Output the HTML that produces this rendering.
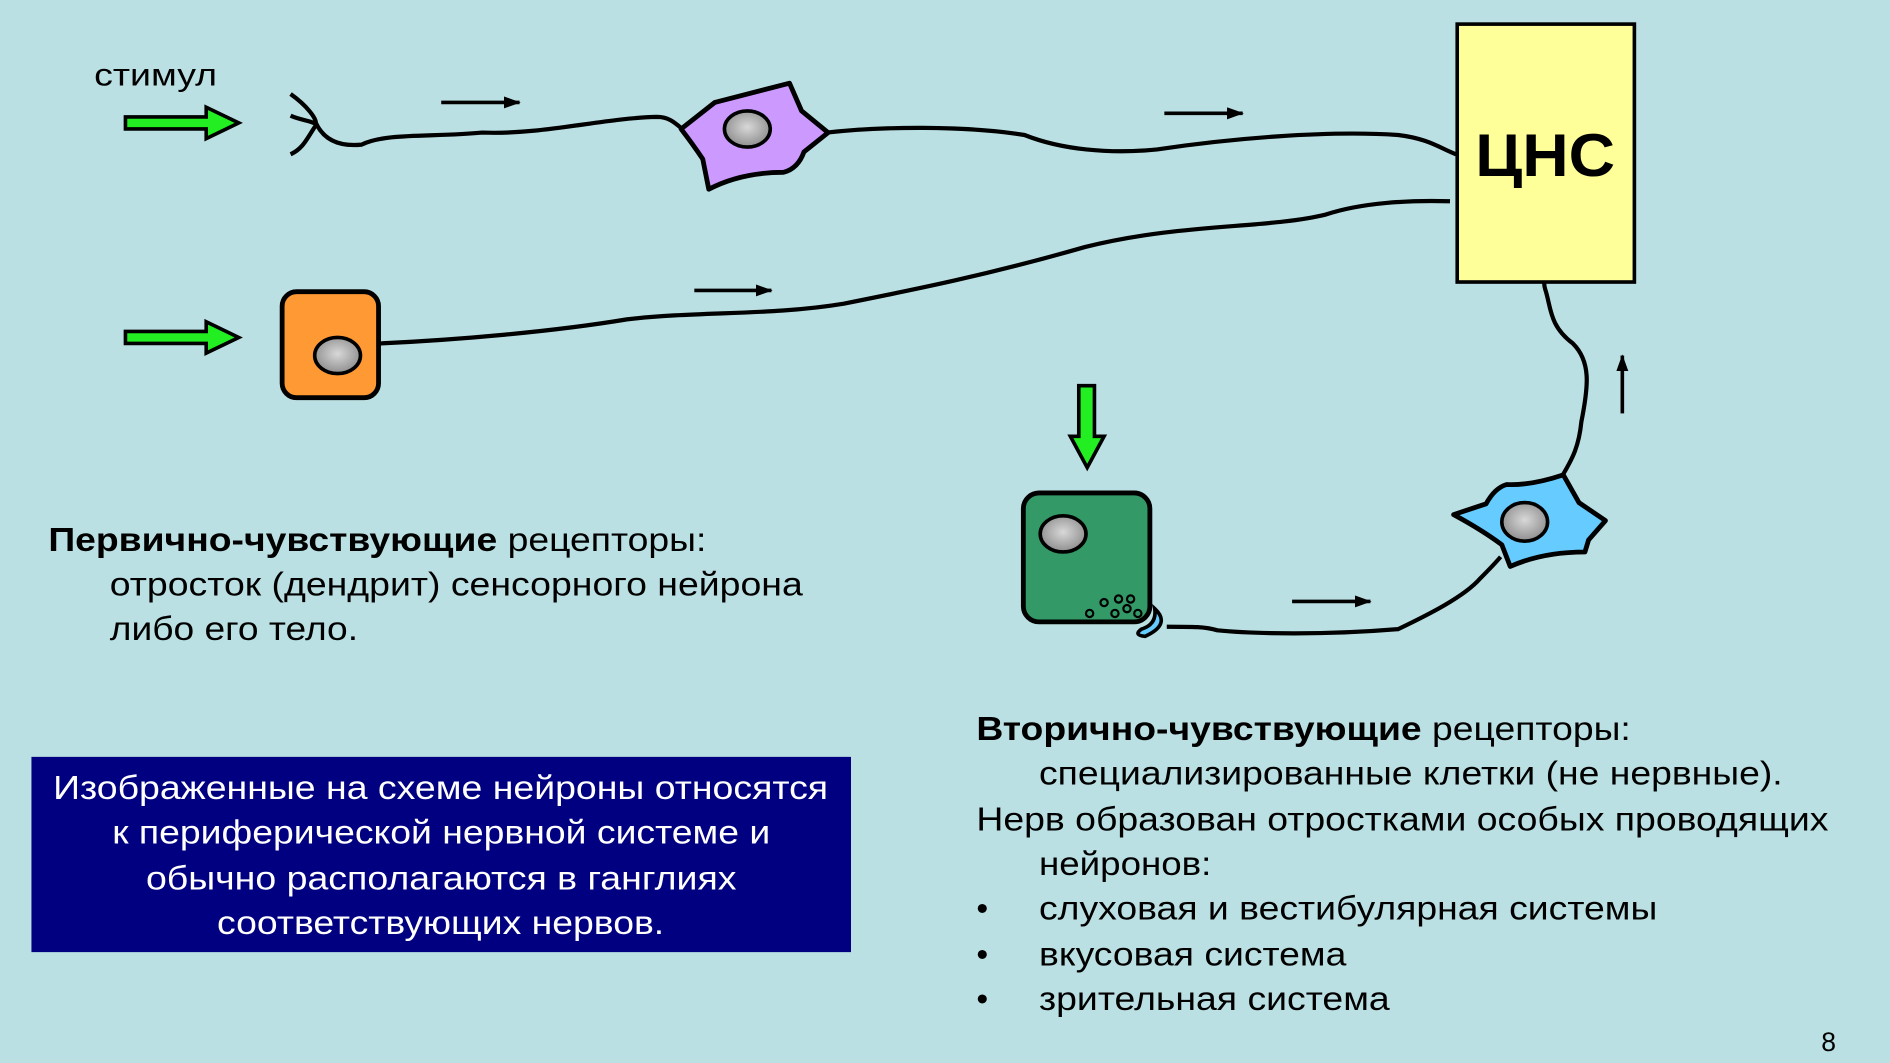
<!DOCTYPE html>
<html><head><meta charset="utf-8"><style>
html,body{margin:0;padding:0;background:#bbe0e3;}
svg{display:block}
text{font-family:"Liberation Sans",Arial,sans-serif;}
</style></head><body>
<svg width="1890" height="1063" viewBox="0 0 1568 882" xmlns="http://www.w3.org/2000/svg">
<defs>
<radialGradient id="nuc" cx="50%" cy="45%" r="55%"><stop offset="0" stop-color="#d8d8d8"/><stop offset="1" stop-color="#8e8e8e"/></radialGradient>
<marker id="ah" markerWidth="14" markerHeight="10" refX="13" refY="5" orient="auto" markerUnits="userSpaceOnUse"><path d="M0,0 L14,5 L0,10z" fill="#000"/></marker>
</defs>
<rect width="1568" height="882" fill="#bbe0e3"/>
<text x="78" y="71" font-size="26" textLength="102" lengthAdjust="spacingAndGlyphs">стимул</text>
<g fill="#22ee22" stroke="#000" stroke-width="3">
<path d="M104,97 H171 V89 L198,102 L171,115 V107 H104Z"/>
<path d="M104,275 H171 V267 L198,280 L171,293 V285 H104Z"/>
<path d="M895,320 H908 V362 H916 L902,388 L888,362 H895Z"/>
</g>
<g stroke="#000" stroke-width="3" marker-end="url(#ah)">
<line x1="366" y1="85" x2="431" y2="85"/>
<line x1="966" y1="94" x2="1031" y2="94"/>
<line x1="576" y1="241" x2="640" y2="241"/>
<line x1="1072" y1="499" x2="1137" y2="499"/>
<line x1="1346" y1="343" x2="1346" y2="295"/>
</g>
<g fill="none" stroke="#000" stroke-width="3.5">
<path d="M241,78 C255,88 262,98 262,102 C268,115 280,122 300,120 C320,110 360,114 400,110 C450,112 500,98 545,97 C555,97 560,102 566,107"/>
<path d="M241,96 C250,100 258,100 262,103"/>
<path d="M241,128 C252,123 255,114 262,104"/>
<path d="M686,110 C730,105 800,104 850,112 C880,124 920,128 960,124 C1020,115 1100,108 1160,112 C1185,115 1195,123 1208,128"/>
<path d="M314,285 C380,282 460,275 520,265 C580,258 640,262 700,252 C760,240 820,228 900,205 C980,185 1050,190 1100,178 C1130,168 1170,166 1203,167"/>
<path d="M968,520 C990,520 1000,520 1010,523 C1040,526 1100,527 1160,522 C1185,510 1215,495 1228,480 C1236,472 1240,468 1245,462"/>
<path d="M1296,395 C1305,380 1310,370 1312,350 C1318,320 1320,300 1305,285 C1285,270 1287,255 1282,240 C1280,234 1282,228 1284,222"/>
</g>
<path d="M565,107 L593,85 Q620,78 655,69 L665,92 L687,110 L667,126 Q662,140 650,143 Q615,143 588,157 L583,132 Q575,120 565,107Z" fill="#cc99ff" stroke="#000" stroke-width="4" stroke-linejoin="round"/>
<ellipse cx="620" cy="107" rx="19" ry="15" fill="url(#nuc)" stroke="#000" stroke-width="3"/>
<path d="M1206,427 L1233,418 Q1240,405 1250,402 Q1270,403 1297,394 L1310,417 L1332,432 L1318,448 L1315,458 Q1280,458 1253,470 L1246,452 Q1230,440 1206,427Z" fill="#66ccff" stroke="#000" stroke-width="4" stroke-linejoin="round"/>
<ellipse cx="1265" cy="433" rx="19" ry="16" fill="url(#nuc)" stroke="#000" stroke-width="3"/>
<rect x="234" y="242" width="80" height="88" rx="12" fill="#ff9933" stroke="#000" stroke-width="4"/>
<ellipse cx="280" cy="295" rx="19" ry="15" fill="url(#nuc)" stroke="#000" stroke-width="3"/>
<rect x="849" y="409" width="105" height="107" rx="13" fill="#339966" stroke="#000" stroke-width="4"/>
<ellipse cx="882" cy="443" rx="19" ry="15" fill="url(#nuc)" stroke="#000" stroke-width="3"/>
<g fill="none" stroke="#000" stroke-width="1.8">
<circle cx="904" cy="509" r="3"/><circle cx="916" cy="500" r="3"/><circle cx="928" cy="497" r="3"/><circle cx="938" cy="497" r="3"/>
<circle cx="925" cy="509" r="3"/><circle cx="935" cy="505" r="3"/><circle cx="944" cy="509" r="3"/>
</g>
<path d="M958,505 Q972,518 950,528 Q940,527 947,522 Q960,518 958,505Z" fill="#66ccff" stroke="#000" stroke-width="3"/>
<rect x="1209" y="20" width="147" height="214" fill="#ffff99" stroke="#000" stroke-width="3"/>
<text x="1224" y="146" font-size="50" font-weight="bold" textLength="116" lengthAdjust="spacingAndGlyphs">ЦНС</text>
<g font-size="28" lengthAdjust="spacingAndGlyphs">
<text x="40" y="457" textLength="546" lengthAdjust="spacingAndGlyphs"><tspan font-weight="bold">Первично-чувствующие</tspan> рецепторы:</text>
<text x="91" y="494" textLength="575" lengthAdjust="spacingAndGlyphs">отросток (дендрит) сенсорного нейрона</text>
<text x="91" y="531" textLength="206" lengthAdjust="spacingAndGlyphs">либо его тело.</text>
<text x="810" y="614" textLength="543" lengthAdjust="spacingAndGlyphs"><tspan font-weight="bold">Вторично-чувствующие</tspan> рецепторы:</text>
<text x="862" y="651" textLength="617" lengthAdjust="spacingAndGlyphs">специализированные клетки (не нервные).</text>
<text x="810" y="689" textLength="707" lengthAdjust="spacingAndGlyphs">Нерв образован отростками особых проводящих</text>
<text x="862" y="726" textLength="143" lengthAdjust="spacingAndGlyphs">нейронов:</text>
<text x="810" y="763">•</text><text x="862" y="763" textLength="513" lengthAdjust="spacingAndGlyphs">слуховая и вестибулярная системы</text>
<text x="810" y="801">•</text><text x="862" y="801" textLength="255" lengthAdjust="spacingAndGlyphs">вкусовая система</text>
<text x="810" y="838">•</text><text x="862" y="838" textLength="291" lengthAdjust="spacingAndGlyphs">зрительная система</text>
</g>
<rect x="26" y="628" width="680" height="162" fill="#000080"/>
<g font-size="28" fill="#fff">
<text x="44" y="663" textLength="643" lengthAdjust="spacingAndGlyphs">Изображенные на схеме нейроны относятся</text>
<text x="93" y="700" textLength="546" lengthAdjust="spacingAndGlyphs">к периферической нервной системе и</text>
<text x="121" y="738" textLength="490" lengthAdjust="spacingAndGlyphs">обычно располагаются в ганглиях</text>
<text x="180" y="775" textLength="371" lengthAdjust="spacingAndGlyphs">соответствующих нервов.</text>
</g>
<text x="1511" y="872" font-size="22">8</text>
</svg>
</body></html>
